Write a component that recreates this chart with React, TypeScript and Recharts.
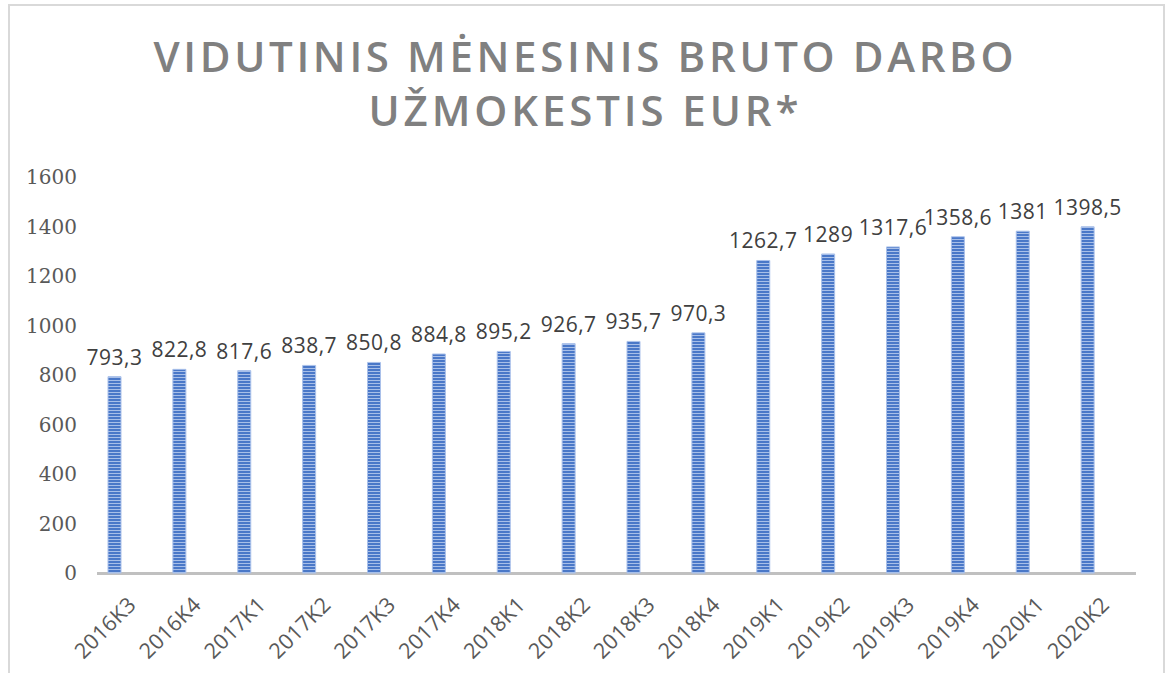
import { BarChart, Bar, XAxis, YAxis, LabelList } from 'recharts'

const quarters = [
  '2016K3', '2016K4', '2017K1', '2017K2', '2017K3', '2017K4', '2018K1', '2018K2',
  '2018K3', '2018K4', '2019K1', '2019K2', '2019K3', '2019K4', '2020K1', '2020K2',
]
const wages = [
  793.3, 822.8, 817.6, 838.7, 850.8, 884.8, 895.2, 926.7,
  935.7, 970.3, 1262.7, 1289, 1317.6, 1358.6, 1381, 1398.5,
]
const yTicks = [0, 200, 400, 600, 800, 1000, 1200, 1400, 1600]
const titleLines = ['VIDUTINIS MĖNESINIS BRUTO DARBO', 'UŽMOKESTIS EUR*']

const data = quarters.map((q, i) => ({ q, v: wages[i] }))

const fmt = (v: number) => String(v).replace('.', ',')

const XTick = (props: any) => {
  const { x, payload } = props
  return (
    <text
      transform={`translate(${x + 23}, 606) rotate(-45)`}
      textAnchor="end"
      fontFamily="'Open Sans', sans-serif"
      fontSize={21.5}
      letterSpacing={0.3}
      fill="#595959"
    >
      {payload.value}
    </text>
  )
}

export default function App() {
  return (
    <div style={{ position: 'absolute', left: 0, top: 0, width: 1168, height: 673, overflow: 'hidden', background: '#fff' }}>
      <div
        style={{
          position: 'absolute',
          left: 8,
          top: 4,
          width: 1157,
          height: 700,
          border: '2px solid #d9d9d9',
          boxSizing: 'border-box',
        }}
      />
      <svg width={1168} height={140} style={{ position: 'absolute', left: 0, top: 0 }}>
        <text
          x={583.5}
          y={72}
          textAnchor="middle"
          fontFamily="'Open Sans', sans-serif"
          fontWeight={600}
          fontSize={42}
          fill="#808080"
          textLength={860}
          lengthAdjust="spacing"
        >
          {titleLines[0]}
        </text>
        <text
          x={583.5}
          y={126}
          textAnchor="middle"
          fontFamily="'Open Sans', sans-serif"
          fontWeight={600}
          fontSize={42}
          fill="#808080"
          textLength={430}
          lengthAdjust="spacing"
        >
          {titleLines[1]}
        </text>
      </svg>
      <div style={{ position: 'absolute', left: 97, top: 572, width: 1039, height: 3, background: '#c0c0c0' }} />
      <div style={{ position: 'absolute', left: 0, top: 0 }}>
        <BarChart
          width={1168}
          height={673}
          data={data}
          margin={{ top: 177, right: 33, bottom: 0, left: 0 }}
        >
          <defs>
            <pattern id="hstripes" width="4" height="3" patternUnits="userSpaceOnUse">
              <rect width="4" height="3" fill="#4a78c8" />
              <rect y="2" width="4" height="1" fill="#a8bfe8" />
            </pattern>
          </defs>
          <XAxis
            dataKey="q"
            axisLine={false}
            tickLine={false}
            interval={0}
            height={100}
            padding={{ left: 0, right: 15 }}
            tick={<XTick />}
          />
          <YAxis
            domain={[0, 1600]}
            ticks={yTicks}
            width={82}
            axisLine={false}
            tickLine={false}
            tickSize={3}
            tickMargin={2}
            tick={{ fontFamily: "'DejaVu Serif', serif", fontSize: 20, fill: '#595959' }}
          />
          <Bar
            dataKey="v"
            barSize={13}
            fill="url(#hstripes)"
            stroke="#a9c0ea"
            strokeWidth={1}
            isAnimationActive={false}
          >
            <LabelList
              dataKey="v"
              position="top"
              offset={12}
              formatter={(v: any) => fmt(Number(v))}
              style={{ fontFamily: "'Open Sans', sans-serif", fontSize: 21, letterSpacing: 0.5, fill: '#404040' }}
            />
          </Bar>
        </BarChart>
      </div>
    </div>
  )
}
